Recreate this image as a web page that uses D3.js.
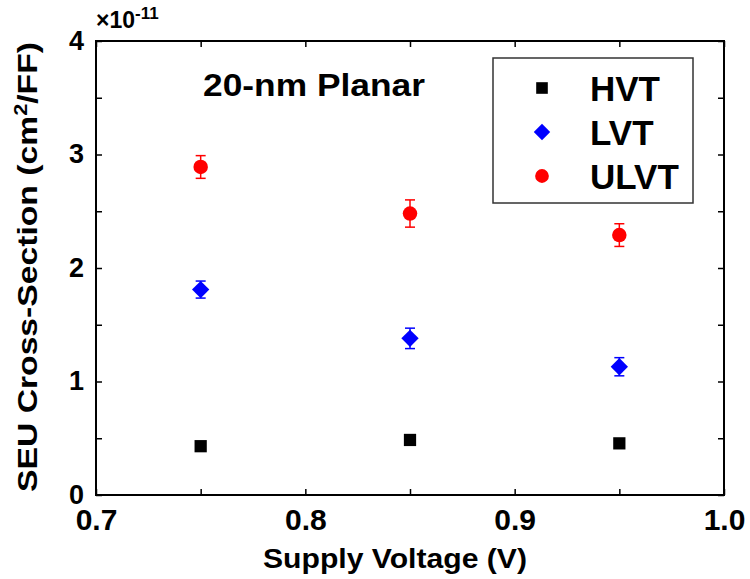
<!DOCTYPE html>
<html>
<head>
<meta charset="utf-8">
<script src="https://cdn.jsdelivr.net/npm/d3@7"></script>
<style>
  body { margin: 0; background: #fff; }
  text { font-family: "Liberation Sans", Arial, sans-serif; font-weight: bold; fill: #000; }
</style>
</head>
<body>
<svg id="chart" width="750" height="579"></svg>
<script>
// SEU cross-section per flip-flop vs supply voltage (units of 1e-11 cm^2/FF)
const voltages = [0.75, 0.85, 0.95];
const hvt = [0.43, 0.485, 0.455];
const hvtErr = [0.03, 0.045, 0.03];
const lvt = [1.81, 1.38, 1.13];
const lvtErr = [0.075, 0.09, 0.08];
const ulvt = [2.89, 2.48, 2.29];
const ulvtErr = [0.1, 0.12, 0.1];

const xTicks = [0.7, 0.75, 0.8, 0.85, 0.9, 0.95, 1.0];
const xLabels = [0.7, 0.8, 0.9, 1.0];
const yTicks = [0, 0.5, 1, 1.5, 2, 2.5, 3, 3.5, 4];
const yLabels = [0, 1, 2, 3, 4];

const series = [
  { name: 'HVT', values: hvt, err: hvtErr, color: '#000000', symbol: d3.symbolSquare, size: 150, rot: 0 },
  { name: 'LVT', values: lvt, err: lvtErr, color: '#0000ff', symbol: d3.symbolSquare, size: 150, rot: 45 },
  { name: 'ULVT', values: ulvt, err: ulvtErr, color: '#ff0000', symbol: d3.symbolCircle, size: 165, rot: 0 }
];

const plot = { left: 96, right: 724, top: 41, bottom: 495 };
const svg = d3.select('#chart');

const x = d3.scaleLinear().domain([0.7, 1.0]).range([plot.left, plot.right]);
const y = d3.scaleLinear().domain([0, 4]).range([plot.bottom, plot.top]);

const fmtX = d => xLabels.some(v => Math.abs(v - d) < 1e-9) ? d3.format('.1f')(d) : '';
const fmtY = d => yLabels.includes(d) ? String(d) : '';

function styleAxis(g) {
  g.select('.domain').remove();
  g.selectAll('.tick line').attr('stroke', '#000').attr('stroke-width', 1.5);
}

// stretch a label horizontally (in its own frame) so it spans `width` px
function fitWidth(text, cx, cy, width, angle = 0) {
  const w = text.node().getBBox().width;
  text.attr('text-anchor', 'middle')
    .attr('transform', `translate(${cx},${cy}) rotate(${angle}) scale(${width / w},1)`);
}

const xAxis = svg.append('g')
  .attr('transform', `translate(0,${plot.bottom})`)
  .call(d3.axisBottom(x).tickValues(xTicks).tickSize(-6).tickFormat(fmtX))
  .call(styleAxis);
xAxis.selectAll('text').attr('y', 35).attr('dy', 0).style('font-size', '30px');

svg.append('g')
  .attr('transform', `translate(0,${plot.top})`)
  .call(d3.axisTop(x).tickValues(xTicks).tickSize(-6).tickFormat(''))
  .call(styleAxis);

const yAxis = svg.append('g')
  .attr('transform', `translate(${plot.left},0)`)
  .call(d3.axisLeft(y).tickValues(yTicks).tickSize(-6).tickFormat(fmtY))
  .call(styleAxis);
yAxis.selectAll('text').attr('x', -12).attr('dy', '0.3em').style('font-size', '27px');

svg.append('g')
  .attr('transform', `translate(${plot.right},0)`)
  .call(d3.axisRight(y).tickValues(yTicks).tickSize(-6).tickFormat(''))
  .call(styleAxis);

// plot frame
svg.append('rect')
  .attr('x', plot.left).attr('y', plot.top)
  .attr('width', plot.right - plot.left).attr('height', plot.bottom - plot.top)
  .attr('fill', 'none').attr('stroke', '#000').attr('stroke-width', 2);

// exponent marker
const expo = svg.append('text').attr('x', 96).attr('y', 28).style('font-size', '23px');
expo.append('tspan').text('×10');
expo.append('tspan').attr('dy', -9).style('font-size', '17px').text('-11');

// axis titles
const xTitle = svg.append('text')
  .style('font-size', '27px')
  .text('Supply Voltage (V)');
fitWidth(xTitle, 395, 568, 264);

const yTitle = svg.append('text')
  .style('font-size', '28px');
yTitle.append('tspan').text('SEU Cross-Section (cm');
yTitle.append('tspan').attr('dy', -10).style('font-size', '18px').text('2');
yTitle.append('tspan').attr('dy', 10).text('/FF)');
fitWidth(yTitle, 37, 267, 450, -90);

const note = svg.append('text')
  .style('font-size', '32px')
  .text('20-nm Planar');
fitWidth(note, 314, 96, 222);

// error bars and markers
series.forEach(s => {
  const g = svg.append('g');
  voltages.forEach((v, i) => {
    const cx = x(v);
    const hi = y(s.values[i] + s.err[i]);
    const lo = y(s.values[i] - s.err[i]);
    g.append('line').attr('x1', cx).attr('x2', cx).attr('y1', hi).attr('y2', lo)
      .attr('stroke', s.color).attr('stroke-width', 1.5);
    [hi, lo].forEach(yy => g.append('line')
      .attr('x1', cx - 5).attr('x2', cx + 5).attr('y1', yy).attr('y2', yy)
      .attr('stroke', s.color).attr('stroke-width', 1.5));
  });
  g.selectAll('path.mark')
    .data(s.values)
    .join('path')
    .attr('class', 'mark')
    .attr('transform', (d, i) => `translate(${x(voltages[i])},${y(d)}) rotate(${s.rot})`)
    .attr('d', d3.symbol().type(s.symbol).size(s.size))
    .attr('fill', s.color);
});

// legend
const legend = svg.append('g');
legend.append('rect')
  .attr('x', 493).attr('y', 58).attr('width', 200).attr('height', 145)
  .attr('fill', '#fff').attr('stroke', '#333').attr('stroke-width', 1.5);
series.forEach((s, i) => {
  const ly = 88 + i * 44;
  legend.append('path')
    .attr('transform', `translate(542,${ly}) rotate(${s.rot})`)
    .attr('d', d3.symbol().type(s.symbol).size(s.size * 0.9))
    .attr('fill', s.color);
  legend.append('text')
    .attr('x', 590).attr('y', ly + 13)
    .style('font-size', '35px')
    .text(s.name);
});
</script>
</body>
</html>
